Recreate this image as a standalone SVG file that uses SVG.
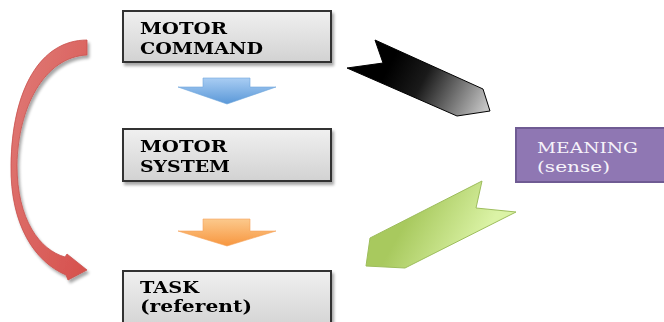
<svg xmlns="http://www.w3.org/2000/svg" width="664" height="322" viewBox="0 0 664 322">
  <defs>
    <linearGradient id="boxFill" x1="0" y1="0" x2="0" y2="1">
      <stop offset="0" stop-color="#f0f0f0"/>
      <stop offset="1" stop-color="#d2d2d2"/>
    </linearGradient>
    <linearGradient id="blueFill" x1="0" y1="0" x2="0" y2="1">
      <stop offset="0" stop-color="#a9cdf3"/>
      <stop offset="1" stop-color="#5a98d8"/>
    </linearGradient>
    <linearGradient id="orangeFill" x1="0" y1="0" x2="0" y2="1">
      <stop offset="0" stop-color="#fcc98c"/>
      <stop offset="1" stop-color="#f7963f"/>
    </linearGradient>
    <linearGradient id="blackFill" gradientUnits="userSpaceOnUse" x1="395" y1="55" x2="488" y2="104">
      <stop offset="0" stop-color="#000000"/>
      <stop offset="0.35" stop-color="#1a1a1a"/>
      <stop offset="1" stop-color="#c4c4c4"/>
    </linearGradient>
    <linearGradient id="greenFill" gradientUnits="userSpaceOnUse" x1="410" y1="215" x2="475" y2="252">
      <stop offset="0" stop-color="#a8c95e"/>
      <stop offset="1" stop-color="#dbf3a6"/>
    </linearGradient>
    <linearGradient id="redFill" x1="0" y1="0" x2="1" y2="1">
      <stop offset="0" stop-color="#e07c78"/>
      <stop offset="1" stop-color="#d6504c"/>
    </linearGradient>
    <filter id="shadow" x="-10%" y="-20%" width="130%" height="150%">
      <feGaussianBlur in="SourceAlpha" stdDeviation="1.5"/>
      <feOffset dx="2" dy="2.5" result="off"/>
      <feComponentTransfer><feFuncA type="linear" slope="0.35"/></feComponentTransfer>
      <feMerge><feMergeNode/><feMergeNode in="SourceGraphic"/></feMerge>
    </filter>
  </defs>
  <style>
    .box { fill: url(#boxFill); stroke: #333333; stroke-width: 2; }
    .lbl { font-family: "DejaVu Serif", "Liberation Serif", serif; font-weight: bold; font-size: 17px; fill: #000000; }
    .sense { fill: #8f77b3; stroke: #6f5b93; stroke-width: 2; }
    .lblw { font-family: "DejaVu Serif", "Liberation Serif", serif; font-size: 15.5px; fill: #f6f3fa; }
  </style>

  <rect width="664" height="322" fill="#ffffff"/>

  <!-- connectors -->
  <g id="connectors">
    <!-- curved red arrow: command straight to task -->
    <path d="M87,40 C40,40 12,90 11,165 C10,225 35,262 66,275 L68,280 L87,270 L67,254 L65,257 C40,250 17,220 17,165 C18,108 44,57 87,55 Z" fill="url(#redFill)" stroke="#c9524e" stroke-width="0.8" filter="url(#shadow)"/>
    <!-- blue block arrow -->
    <path d="M203,78 L250,78 L250,87 L276,87 L227,104 L178,87 L203,87 Z" fill="url(#blueFill)" stroke="#6ea6dc" stroke-width="0.6"/>
    <!-- orange block arrow -->
    <path d="M203,219 L250,219 L250,231 L276,231 L227,246 L178,231 L203,231 Z" fill="url(#orangeFill)" stroke="#f5a35a" stroke-width="0.6"/>
    <!-- black chevron arrow -->
    <path d="M375,40 L483,89 L490,111 L457,116 L347,68 L383,63 Z" fill="url(#blackFill)" stroke="#000000" stroke-width="1"/>
    <!-- green chevron arrow -->
    <path d="M482,181 L476,208 L516,212 L405,268 L366,266 L370,238 Z" fill="url(#greenFill)" stroke="#9dbd5c" stroke-width="1"/>
  </g>

  <!-- nodes -->
  <g id="motor-command" filter="url(#shadow)">
    <rect class="box" x="123" y="11" width="208" height="51"/>
    <text class="lbl" x="140" y="34" textLength="87" lengthAdjust="spacingAndGlyphs">MOTOR</text>
    <text class="lbl" x="140" y="53.5" textLength="123" lengthAdjust="spacingAndGlyphs">COMMAND</text>
  </g>

  <g id="motor-system" filter="url(#shadow)">
    <rect class="box" x="123" y="129" width="208" height="52"/>
    <text class="lbl" x="140" y="152" textLength="87" lengthAdjust="spacingAndGlyphs">MOTOR</text>
    <text class="lbl" x="140" y="172" textLength="90" lengthAdjust="spacingAndGlyphs">SYSTEM</text>
  </g>

  <g id="task" filter="url(#shadow)">
    <rect class="box" x="123" y="271" width="208" height="60"/>
    <text class="lbl" x="140" y="292.5" textLength="59" lengthAdjust="spacingAndGlyphs">TASK</text>
    <text class="lbl" x="140" y="311.5" textLength="112" lengthAdjust="spacingAndGlyphs">(referent)</text>
  </g>

  <g id="meaning">
    <rect class="sense" x="516" y="128" width="160" height="54"/>
    <text class="lblw" x="537" y="153" textLength="101" lengthAdjust="spacingAndGlyphs">MEANING</text>
    <text class="lblw" x="537" y="171.5" textLength="73" lengthAdjust="spacingAndGlyphs">(sense)</text>
  </g>
</svg>
